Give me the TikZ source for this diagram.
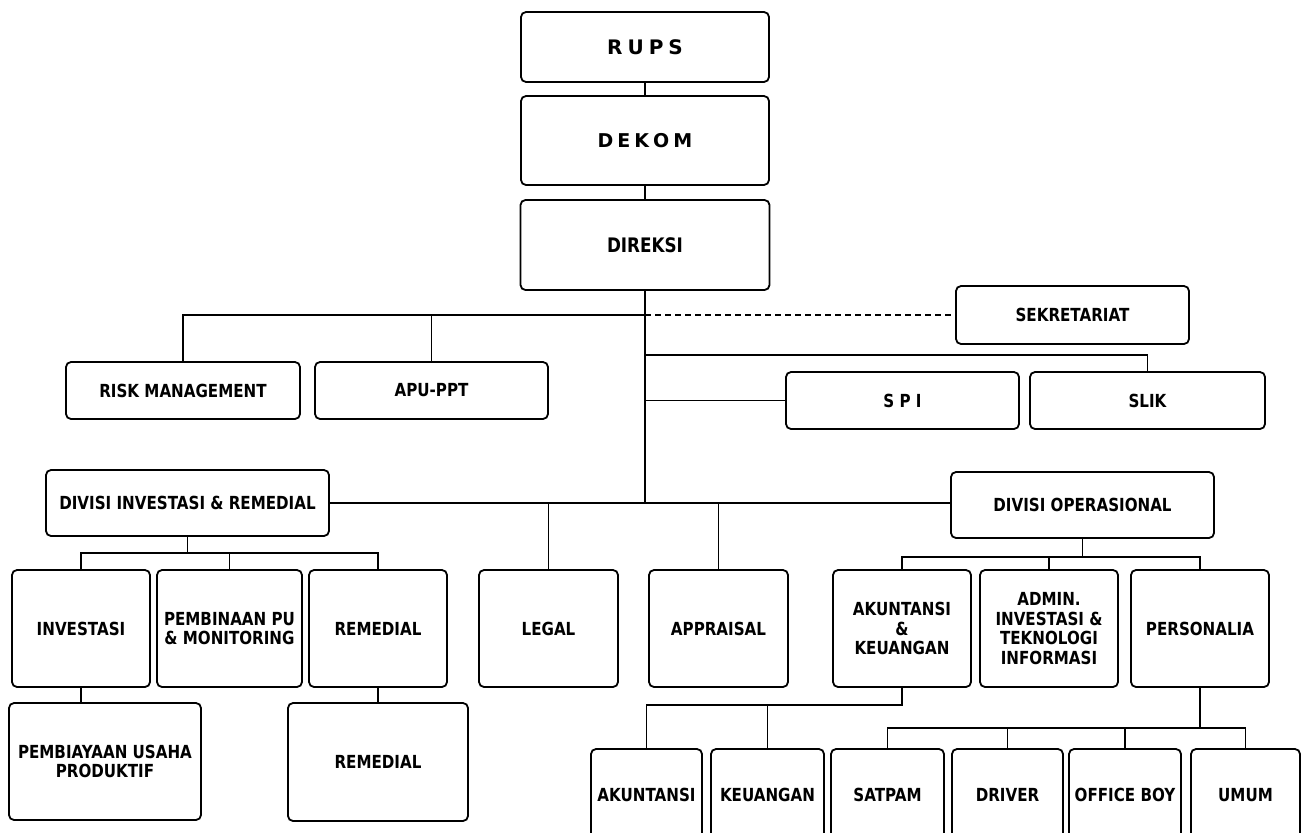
\documentclass[tikz,border=0pt]{standalone}
\usepackage{fontspec}
\setmainfont{DejaVu Sans}[FakeStretch=0.84]
\newfontfamily\vfont{DejaVu Sans}
\newcommand{\orgbox}[6]{\node[box, minimum width=#4pt, minimum height=#5pt] (#1) at (#2,#3) {#6};}
\begin{document}
\begin{tikzpicture}[x=1pt,y=-1pt,
  box/.style={draw=black, line width=1.8pt, rounded corners=5pt, fill=white, inner sep=0pt, outer sep=0pt, align=center, font=\fontsize{18}{19.5}\selectfont\bfseries},
  ln/.style={line width=1.8pt, draw=black},
  dln/.style={line width=1.8pt, draw=black, dash pattern=on 6pt off 4pt}]
\useasboundingbox (0,0) rectangle (1302,833);
\clip (0,0) rectangle (1302,833);
% top chain
\orgbox{rups}{645}{47}{248}{70}{\fontsize{20}{24}\vfont\bfseries\selectfont R\hspace{5pt}U\hspace{5pt}P\hspace{5pt}S}
\orgbox{dekom}{645}{140.5}{248}{89}{\fontsize{19}{23}\vfont\bfseries\selectfont D\hspace{4pt}E\hspace{4pt}K\hspace{4pt}O\hspace{4pt}M}
\orgbox{direksi}{645}{245}{249}{90}{\fontsize{20}{22}\selectfont DIREKSI}
\orgbox{sek}{1072.5}{315}{233}{58}{SEKRETARIAT}
\orgbox{risk}{183}{390.5}{234}{57}{RISK MANAGEMENT}
\orgbox{apu}{431.5}{390.5}{233}{57}{APU-PPT}
\orgbox{spi}{902.5}{400.5}{233}{57}{S P I}
\orgbox{slik}{1147.5}{400.5}{235}{57}{SLIK}
% divisions
\orgbox{divinv}{187.5}{503}{283}{66}{DIVISI INVESTASI \& REMEDIAL}
\orgbox{divop}{1082.5}{505}{263}{66}{DIVISI OPERASIONAL}
% level 3
\orgbox{inv}{81}{628.5}{138}{117}{INVESTASI}
\orgbox{pemb}{229.5}{628.5}{145}{117}{PEMBINAAN PU\\\& MONITORING}
\orgbox{rema}{378}{628.5}{138}{117}{REMEDIAL}
\orgbox{legal}{548.5}{628.5}{139}{117}{LEGAL}
\orgbox{appr}{718.5}{628.5}{139}{117}{APPRAISAL}
\orgbox{akkeu}{902}{628.5}{138}{117}{AKUNTANSI\\\&\\KEUANGAN}
\orgbox{admin}{1049}{628.5}{138}{117}{ADMIN.\\INVESTASI \&\\TEKNOLOGI\\INFORMASI}
\orgbox{pers}{1200}{628.5}{138}{117}{PERSONALIA}
% level 4
\orgbox{pu}{105}{761.5}{192}{117}{PEMBIAYAAN USAHA\\PRODUKTIF}
\orgbox{remb}{378}{762}{180}{118}{REMEDIAL}
\orgbox{akun}{646.5}{795}{111}{92}{AKUNTANSI}
\orgbox{keu}{767.5}{795}{113}{92}{KEUANGAN}
\orgbox{satpam}{887.5}{795}{113}{92}{SATPAM}
\orgbox{driver}{1007.5}{795}{111}{92}{DRIVER}
\orgbox{office}{1125}{795}{112}{92}{OFFICE BOY}
\orgbox{umum}{1245.5}{795}{109}{92}{UMUM}
% connectors
\draw[ln] (rups.south) -- (dekom.north);
\draw[ln] (dekom.south) -- (direksi.north);
\coordinate (b1) at (645,315);
\coordinate (b2) at (645,355);
\draw[ln] (risk.north) |- (b1);
\draw[ln] (apu.north) -- (apu.north |- b1);
\draw[dln] (b1) -- (sek.west);
\draw[ln] (b2) -| (slik.north);
\draw[ln] (spi.west) -- (spi.west -| b2);
\draw[ln] (direksi.south) -- (direksi.south |- divinv.east);
\draw[ln] (divinv.east) -- (divinv.east -| divop.west);
\draw[ln] (legal.north) -- (legal.north |- divinv.east);
\draw[ln] (appr.north) -- (appr.north |- divinv.east);
\coordinate (c1) at (0,553);
\draw[ln] (divinv.south) -- (divinv.south |- c1);
\draw[ln] (inv.north) |- (rema.north |- c1) -- (rema.north);
\draw[ln] (pemb.north) -- (pemb.north |- c1);
\coordinate (c2) at (0,557);
\draw[ln] (divop.south) -- (divop.south |- c2);
\draw[ln] (akkeu.north) |- (pers.north |- c2) -- (pers.north);
\draw[ln] (admin.north) -- (admin.north |- c2);
\draw[ln] (inv.south) -- (inv.south |- pu.north);
\draw[ln] (rema.south) -- (remb.north);
\coordinate (c3) at (0,705);
\draw[ln] (akkeu.south) |- (akun.north |- c3) -- (akun.north);
\draw[ln] (keu.north) -- (keu.north |- c3);
\coordinate (c4) at (0,728);
\draw[ln] (pers.south) -- (pers.south |- c4);
\draw[ln] (satpam.north) |- (umum.north |- c4) -- (umum.north);
\draw[ln] (driver.north) -- (driver.north |- c4);
\draw[ln] (office.north) -- (office.north |- c4);
\end{tikzpicture}
\end{document}
